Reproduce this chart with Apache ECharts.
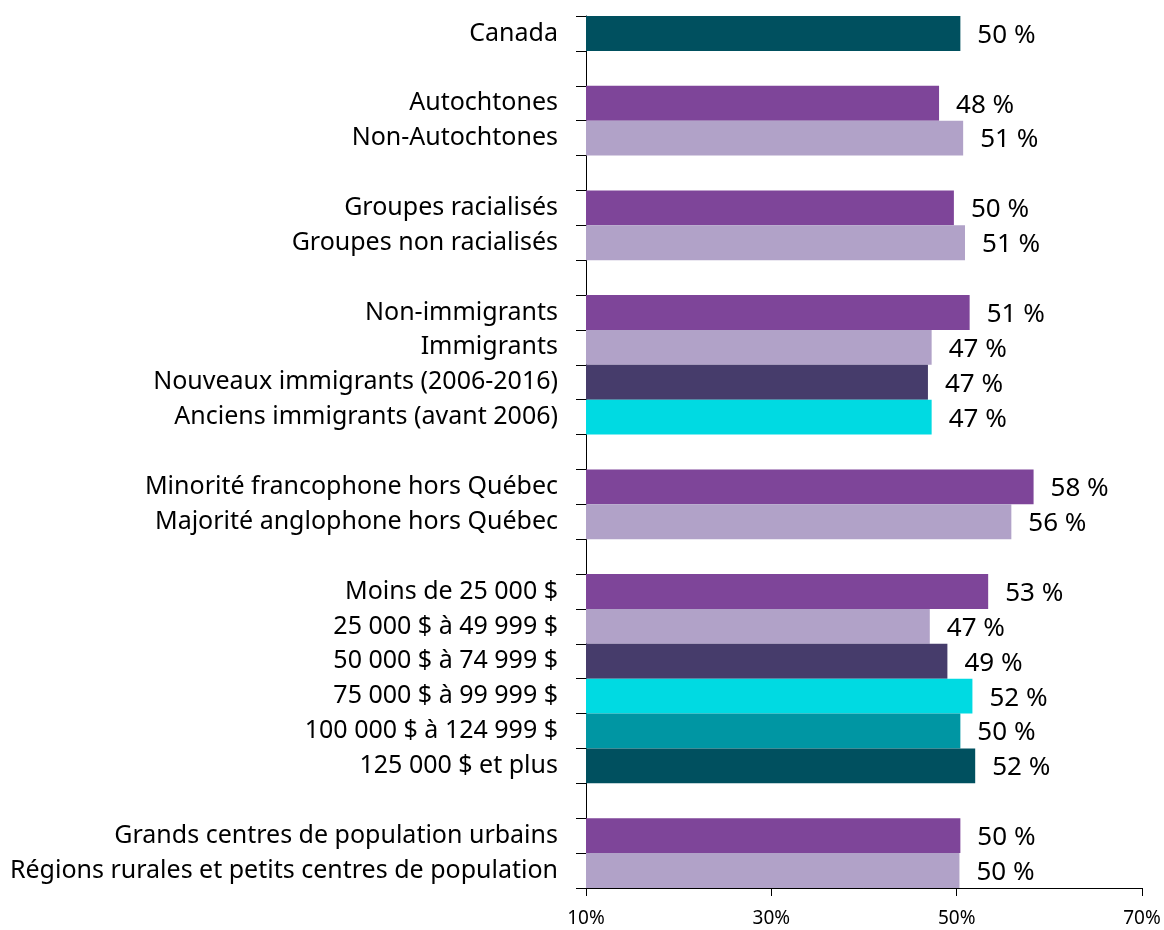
<!DOCTYPE html>
<html>
<head>
<meta charset="utf-8">
<script src="https://cdn.jsdelivr.net/npm/echarts@6/dist/echarts.min.js"></script>
<style>html,body{margin:0;padding:0;background:#fff}#c{width:1164px;height:930px}</style>
</head>
<body>
<div id="c"></div>
<script>
const categories = [
  'Canada', '',
  'Autochtones', 'Non-Autochtones', '',
  'Groupes racialisés', 'Groupes non racialisés', '',
  'Non-immigrants', 'Immigrants', 'Nouveaux immigrants (2006-2016)', 'Anciens immigrants (avant 2006)', '',
  'Minorité francophone hors Québec', 'Majorité anglophone hors Québec', '',
  'Moins de 25 000 $', '25 000 $ à 49 999 $', '50 000 $ à 74 999 $', '75 000 $ à 99 999 $', '100 000 $ à 124 999 $', '125 000 $ et plus', '',
  'Grands centres de population urbains', 'Régions rurales et petits centres de population'
];
const values = [
  50.4, null,
  48.1, 50.7, null,
  49.7, 50.9, null,
  51.4, 47.3, 46.9, 47.3, null,
  58.3, 55.9, null,
  53.4, 47.1, 49.0, 51.7, 50.4, 52.0, null,
  50.4, 50.3
];
const colorKeys = [
  'darkteal', null,
  'purple', 'lilac', null,
  'purple', 'lilac', null,
  'purple', 'lilac', 'indigo', 'cyan', null,
  'purple', 'lilac', null,
  'purple', 'lilac', 'indigo', 'cyan', 'teal', 'darkteal', null,
  'purple', 'lilac'
];
const palette = {
  darkteal: '#00505F',
  purple: '#7E4599',
  lilac: '#B1A2C8',
  indigo: '#463C6B',
  cyan: '#00DAE2',
  teal: '#0096A3'
};
const xTicks = [10, 30, 50, 70];

const chart = echarts.init(document.getElementById('c'), null, {renderer: 'canvas'});
const FONT = '"Noto Sans", "Open Sans", sans-serif';
chart.setOption({
  animation: false,
  grid: {left: 586, right: 22, top: 16, bottom: 42, containLabel: false},
  xAxis: {
    type: 'value', min: xTicks[0], max: xTicks[xTicks.length - 1], interval: 20,
    axisLine: {show: true, lineStyle: {color: '#000', width: 1}},
    axisTick: {show: true, length: 8, lineStyle: {color: '#000'}},
    splitLine: {show: false},
    axisLabel: {formatter: '{value}%', color: '#000', fontSize: 19, fontFamily: FONT, margin: 21}
  },
  yAxis: {
    type: 'category', data: categories, inverse: true,
    axisLine: {show: true, lineStyle: {color: '#000', width: 1}},
    axisTick: {show: true, length: 10, interval: 0, lineStyle: {color: '#000'}},
    axisLabel: {interval: 0, color: '#000', fontSize: 25, fontFamily: FONT, margin: 28}
  },
  series: [{
    type: 'bar',
    barCategoryGap: '0%',
    data: values.map((v, i) => v == null ? '-' : {value: v, itemStyle: {color: palette[colorKeys[i]]}}),
    label: {
      show: true, position: 'right', distance: 17, offset: [0, 2],
      color: '#000', fontSize: 26, fontFamily: FONT,
      formatter: p => Math.round(p.value) + ' %'
    }
  }]
});
</script>
</body>
</html>
